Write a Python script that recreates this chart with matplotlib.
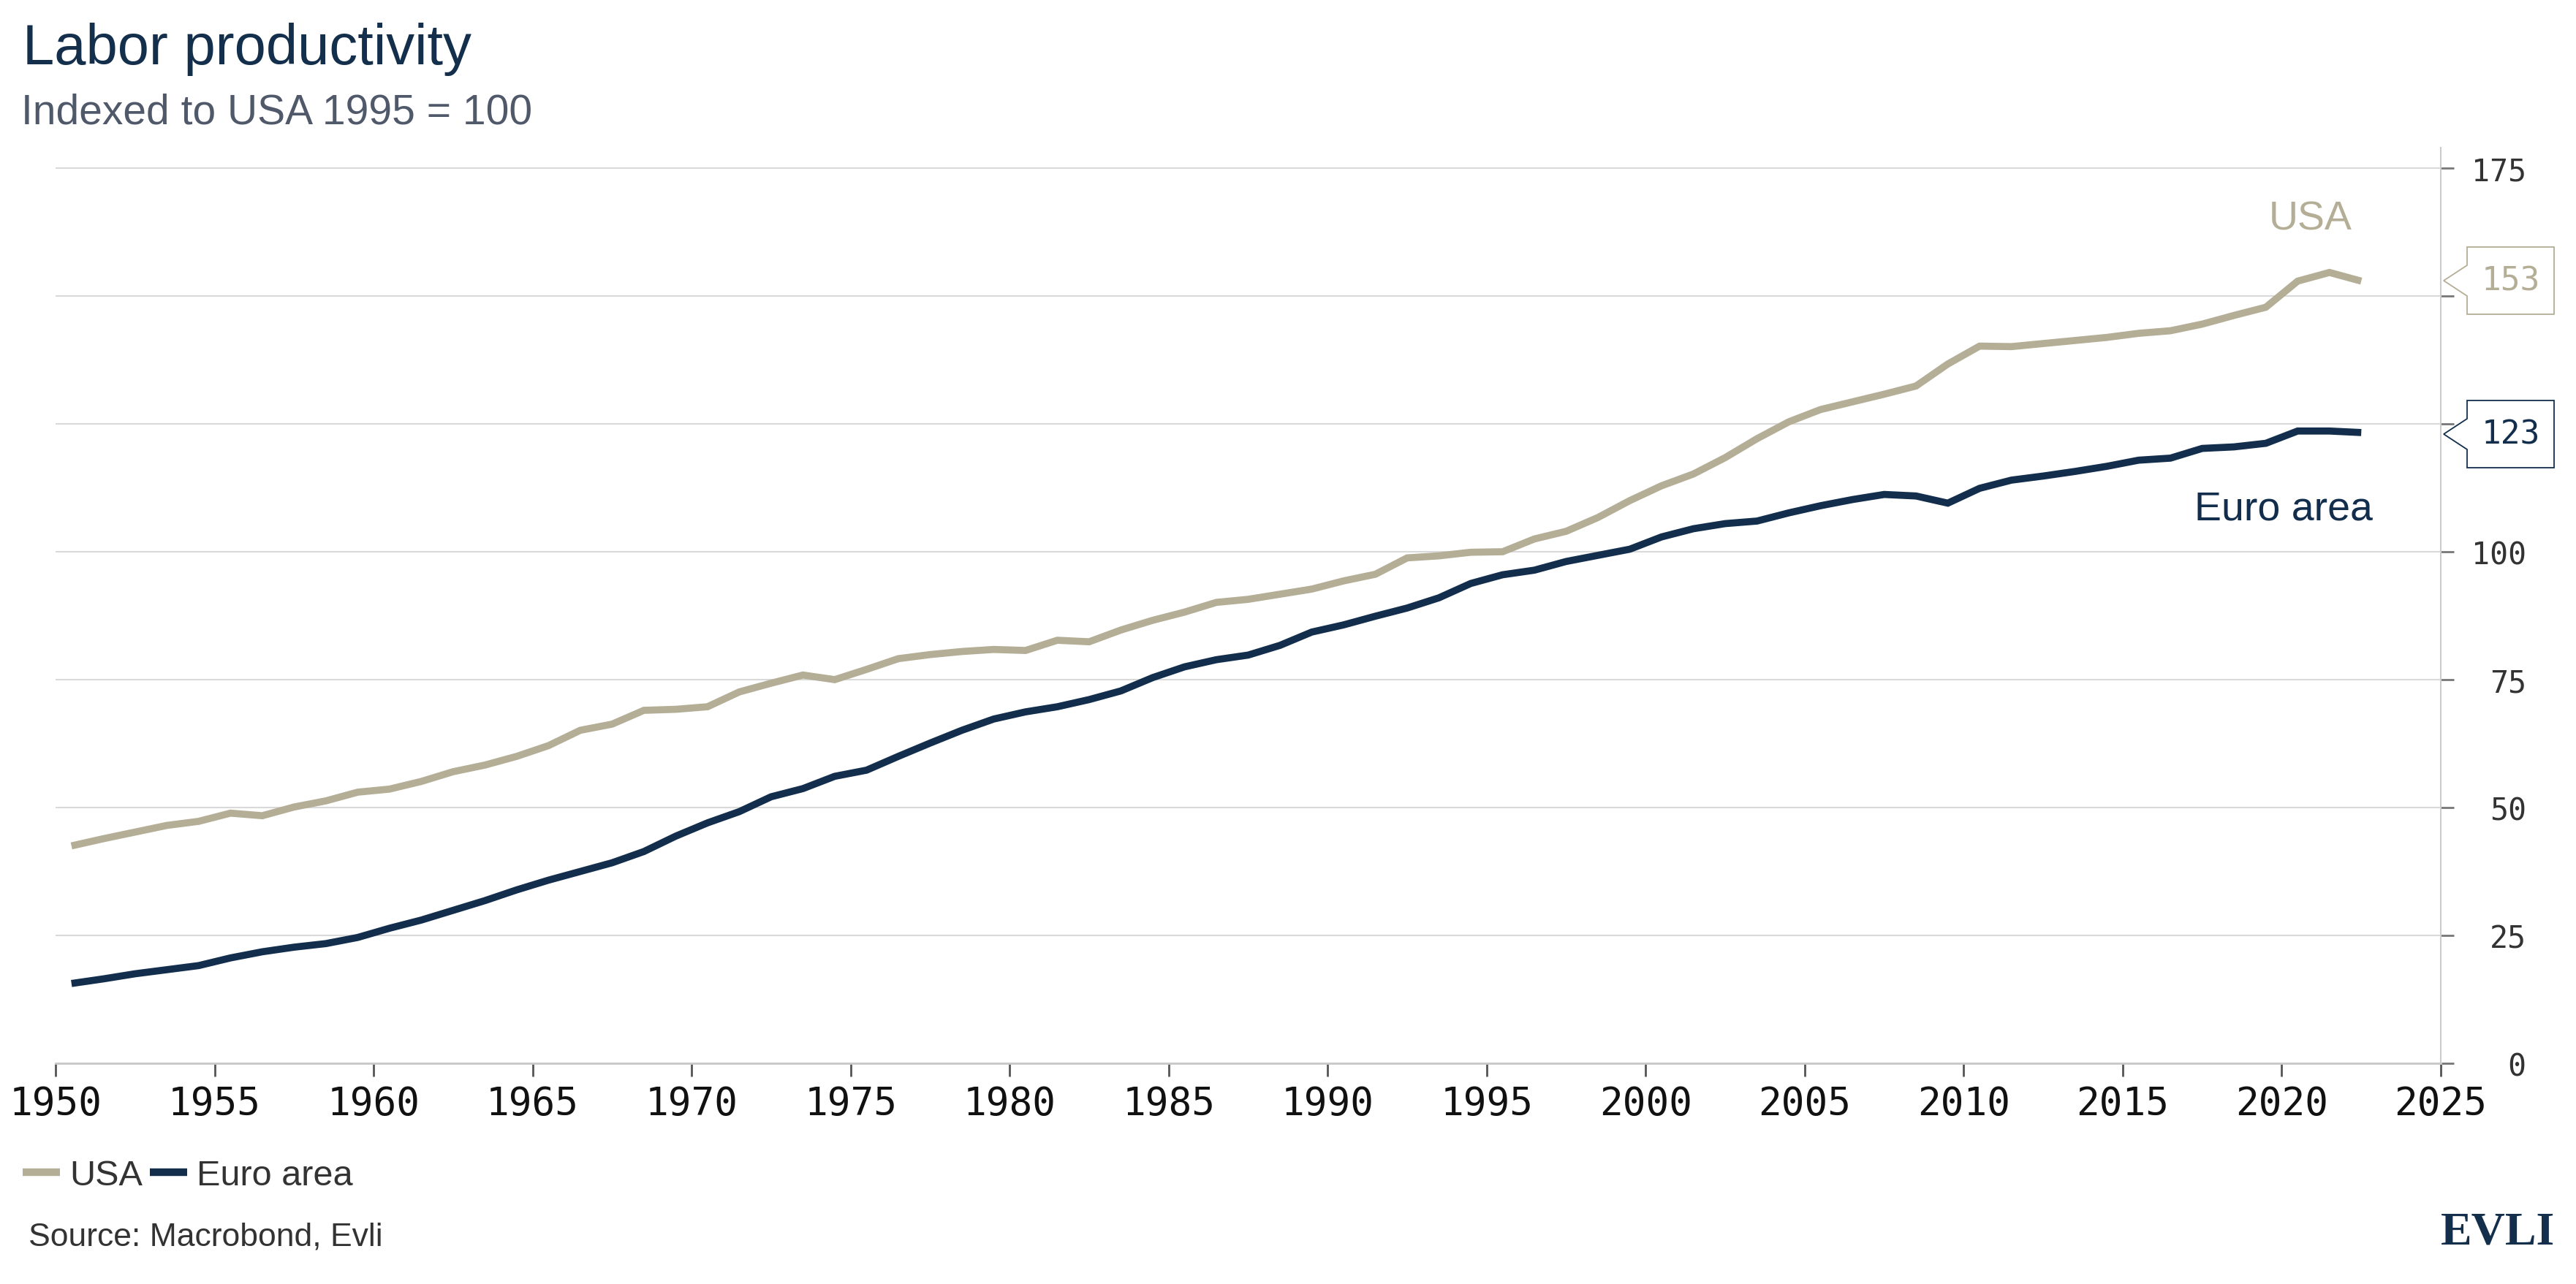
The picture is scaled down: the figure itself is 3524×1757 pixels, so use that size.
import matplotlib
matplotlib.use("Agg")
import matplotlib.pyplot as plt
from matplotlib.lines import Line2D
from matplotlib.patches import Polygon
from matplotlib.transforms import IdentityTransform

# annual data, 1950-2022
years = list(range(1950, 2023))
usa = [42.5, 43.9, 45.2, 46.5, 47.3, 48.9, 48.4, 50.1, 51.3, 53.0,
       53.6, 55.1, 57.0, 58.3, 60.0, 62.1, 65.1, 66.3, 69.0, 69.2,
       69.7, 72.6, 74.3, 75.9, 75.0, 77.0, 79.1, 79.9, 80.5, 80.9,
       80.7, 82.7, 82.4, 84.7, 86.6, 88.2, 90.1, 90.7, 91.7, 92.7,
       94.3, 95.6, 98.8, 99.2, 99.9, 100.0, 102.5, 104.0, 106.7, 110.0,
       112.9, 115.2, 118.4, 122.1, 125.4, 127.8, 129.3, 130.8, 132.4, 136.7,
       140.2, 140.1, 140.7, 141.3, 141.9, 142.7, 143.2, 144.5, 146.2, 147.8,
       152.9, 154.6, 152.9]
euro = [15.6, 16.5, 17.5, 18.3, 19.1, 20.6, 21.8, 22.7, 23.4, 24.6,
        26.4, 28.0, 29.9, 31.8, 33.9, 35.8, 37.5, 39.2, 41.4, 44.4,
        47.0, 49.2, 52.1, 53.7, 56.1, 57.3, 60.0, 62.6, 65.1, 67.3,
        68.7, 69.7, 71.1, 72.8, 75.4, 77.5, 78.9, 79.8, 81.7, 84.3,
        85.7, 87.4, 89.0, 91.0, 93.8, 95.5, 96.4, 98.1, 99.3, 100.5,
        102.9, 104.5, 105.5, 106.0, 107.6, 109.0, 110.2, 111.2, 110.9, 109.5,
        112.4, 114.0, 114.8, 115.7, 116.7, 117.9, 118.3, 120.2, 120.5, 121.2,
        123.6, 123.6, 123.3]
usa_last = 153
euro_last = 123
xticks = list(range(1950, 2026, 5))
yticks = list(range(0, 176, 25))

usa_col = '#b4ae96'
euro_col = '#122e4c'
navy = '#132f4c'
txt = ['Liberation Sans', 'DejaVu Sans']
mono = ['DejaVu Sans Mono']

W, H = 3524, 1758
fig = plt.figure(figsize=(W / 100, H / 100), dpi=100)
fig.subplots_adjust(left=76 / W, right=3339 / W, bottom=1 - 1456 / H, top=1 - 203 / H)
ax = fig.add_subplot(111)

# points sit mid-year
xs = [y + 0.5 for y in years]
ax.plot(xs, usa, color=usa_col, lw=7, solid_joinstyle='miter', solid_capstyle='butt', zorder=3)
ax.plot(xs, euro, color=euro_col, lw=7, solid_joinstyle='miter', solid_capstyle='butt', zorder=4)

ax.set_xlim(1950, 2025)
ax.set_ylim(0, 179)
ax.set_xticks(xticks)
ax.set_yticks(yticks)
# labels hidden under the callout boxes are left blank
ax.set_yticklabels(['' if min(abs(t - usa_last), abs(t - euro_last)) < 10 else str(t)
                    for t in yticks])
ax.yaxis.tick_right()
ax.yaxis.grid(True, color='#d9d9d9', lw=1.5)
ax.set_axisbelow(True)
for s in ['top', 'left']:
    ax.spines[s].set_visible(False)
ax.spines['bottom'].set_color('#c8c8c8')
ax.spines['bottom'].set_linewidth(2)
ax.spines['right'].set_color('#cccccc')
ax.spines['right'].set_linewidth(1.5)

ax.tick_params(axis='x', direction='out', length=13, width=2, color='#555555',
               pad=8, labelsize=38, labelcolor='#111111')
ax.tick_params(axis='y', direction='out', length=13, width=2, color='#777777',
               pad=71, labelsize=30, labelcolor='#333333')
for lab in ax.get_xticklabels():
    lab.set_family(mono)
for lab in ax.get_yticklabels():
    lab.set_family(mono)
    lab.set_horizontalalignment('right')

# series names inside the plot
ax.text(2022.2, 163.1, 'USA', color=usa_col, fontsize=40, family=txt,
        ha='right', va='baseline')
ax.text(2022.85, 106.3, 'Euro area', color=euro_col, fontsize=40, family=txt,
        ha='right', va='baseline')

# last value callouts on the right axis
fig.canvas.draw()
spine_x = ax.transAxes.transform((1, 0))[0]
for val, col in [(usa_last, usa_col), (euro_last, euro_col)]:
    yc = ax.transData.transform((2025, val))[1]
    L, R, tip = spine_x + 36, spine_x + 155, spine_x + 4
    hh, nh = 46, 21
    verts = [(L, yc + hh), (R, yc + hh), (R, yc - hh), (L, yc - hh),
             (L, yc - nh), (tip, yc), (L, yc + nh)]
    fig.add_artist(Polygon(verts, closed=True, facecolor='white', edgecolor=col,
                           lw=1.3, transform=IdentityTransform(), zorder=10))
    fig.text((L + R) / 2, yc, str(val), color=col, fontsize=32, family=mono,
             ha='center', va='center', transform=IdentityTransform(), zorder=11)

# titles
fig.text(31 / W, 1 - 88 / H, 'Labor productivity', fontsize=56, family=txt,
         color=navy, va='baseline')
fig.text(29 / W, 1 - 170 / H, 'Indexed to USA 1995 = 100', fontsize=41,
         family=txt, color='#50596a', va='baseline')

# legend
handles = [Line2D([], [], color=usa_col, lw=7.5, solid_capstyle='butt'),
           Line2D([], [], color=euro_col, lw=7.5, solid_capstyle='butt')]
fig.legend(handles, ['USA', 'Euro area'], loc='center left',
           bbox_to_anchor=(31 / W, 1 - 1610 / H), ncol=2, frameon=False,
           prop={'family': txt, 'size': 35}, labelcolor='#333333',
           handlelength=1.05, handletextpad=0.27, columnspacing=0.2,
           borderpad=0, borderaxespad=0)

fig.text(39 / W, 1 - 1705 / H, 'Source: Macrobond, Evli', fontsize=32,
         family=txt, color='#333333', va='baseline')
fig.text(3495 / W, 1 - 1703 / H, 'EVLI', fontsize=46, family=['Liberation Serif', 'DejaVu Serif'],
         weight='bold', color=navy, ha='right', va='baseline')

fig.savefig('out.png', dpi=100, facecolor='white')
